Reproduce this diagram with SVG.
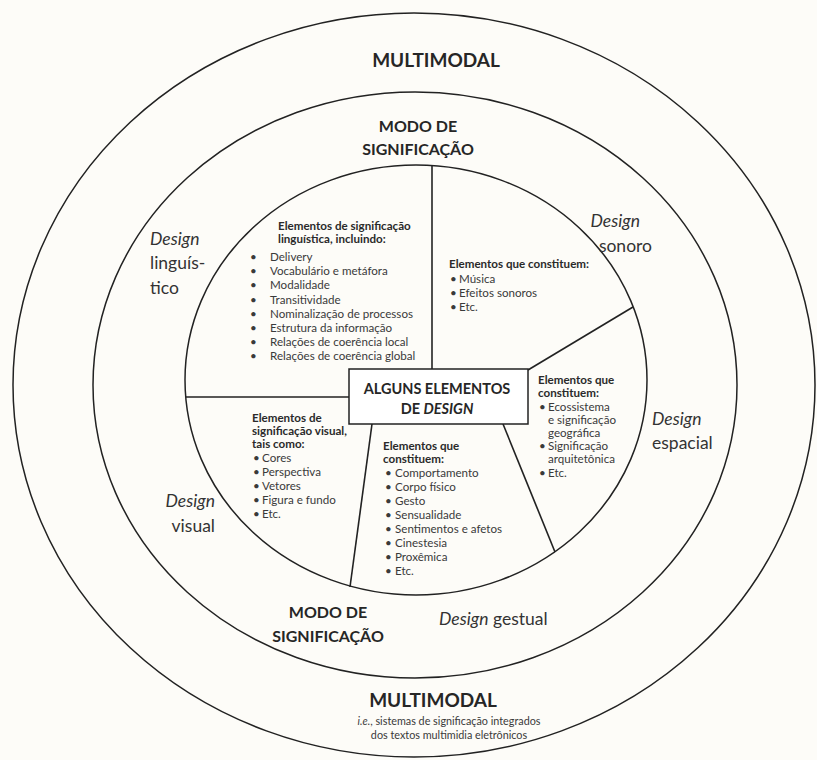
<svg xmlns="http://www.w3.org/2000/svg" width="817" height="760" viewBox="0 0 817 760">
<style>
.ring{fill:none;stroke:#222;stroke-width:1.5}
.div{stroke:#222;stroke-width:1.6;fill:none}
.big{font-family:Lato,"Open Sans",sans-serif;font-weight:700;font-size:19px;fill:#262626;text-anchor:middle}
.mid{font-size:16px}
.box{font-size:14.5px}
.lab{font-family:Lato,"Open Sans",sans-serif;font-size:17.5px;fill:#333}
.it{font-style:italic}
.hd{font-family:Lato,"Open Sans",sans-serif;font-weight:700;font-size:11.6px;fill:#2a2a2a}
.tx{font-family:Lato,"Open Sans",sans-serif;font-size:11.6px;fill:#3a3a3a}
.sm{font-family:Lato,"Open Sans",sans-serif;font-size:10.8px;fill:#3a3a3a;text-anchor:middle}
</style>
<rect width="817" height="760" fill="#fdfcf8"/>
<g id="rings">
<ellipse class="ring" cx="414" cy="385" rx="401" ry="372"/>
<ellipse class="ring" cx="415" cy="385" rx="322" ry="293"/>
<ellipse class="ring" cx="416" cy="380" rx="231" ry="215"/>
</g>
<g id="connectors">
<line class="div" x1="432" y1="165" x2="432" y2="369"/>
<line class="div" x1="186" y1="397" x2="349" y2="397"/>
<line class="div" x1="528" y1="370" x2="633" y2="307"/>
<line class="div" x1="503" y1="424" x2="555" y2="552"/>
<line class="div" x1="372" y1="424" x2="350" y2="587"/>
</g>
<g id="outer-labels">
<text class="big" x="436" y="67">MULTIMODAL</text>
<text class="big" x="433" y="707">MULTIMODAL</text>
<text class="sm" x="449" y="725"><tspan font-style="italic">i.e.</tspan>, sistemas de significação integrados</text>
<text class="sm" x="449" y="739">dos textos multimidia eletrônicos</text>
</g>
<g id="middle-labels">
<text class="big mid" x="418" y="132">MODO DE</text>
<text class="big mid" x="418" y="155">SIGNIFICAÇÃO</text>
<text class="big mid" x="328" y="618">MODO DE</text>
<text class="big mid" x="328" y="642">SIGNIFICAÇÃO</text>
</g>
<g id="design-linguistico">
<text class="lab it" x="150" y="245">Design</text>
<text class="lab" x="150" y="269">linguís-</text>
<text class="lab" x="150" y="294">tico</text>
</g>
<g id="design-sonoro">
<text class="lab it" x="640" y="227" text-anchor="end">Design</text>
<text class="lab" x="652" y="252" text-anchor="end">sonoro</text>
</g>
<g id="design-espacial">
<text class="lab it" x="652" y="425">Design</text>
<text class="lab" x="652" y="449">espacial</text>
</g>
<g id="design-visual">
<text class="lab it" x="215" y="507" text-anchor="end">Design</text>
<text class="lab" x="215" y="532" text-anchor="end">visual</text>
</g>
<g id="design-gestual">
<text class="lab" x="439" y="625"><tspan class="it">Design</tspan> gestual</text>
</g>
<g id="center-box">
<rect x="349" y="369" width="179" height="55" fill="#fff" stroke="#222" stroke-width="1.5"/>
<text class="big box" x="437" y="394">ALGUNS ELEMENTOS</text>
<text class="big box" x="437" y="414">DE <tspan font-style="italic">DESIGN</tspan></text>
</g>
<g id="sec-linguistico">
<text class="hd" x="278" y="230">Elementos de significação</text>
<text class="hd" x="278" y="243">linguística, incluindo:</text>
<g class="tx">
<text x="250" y="261">•</text><text x="270" y="261">Delivery</text>
<text x="250" y="275">•</text><text x="270" y="275">Vocabulário e metáfora</text>
<text x="250" y="289">•</text><text x="270" y="289">Modalidade</text>
<text x="250" y="304">•</text><text x="270" y="304">Transitividade</text>
<text x="250" y="318">•</text><text x="270" y="318">Nominalização de processos</text>
<text x="250" y="332">•</text><text x="270" y="332">Estrutura da informação</text>
<text x="250" y="346">•</text><text x="270" y="346">Relações de coerência local</text>
<text x="250" y="360">•</text><text x="270" y="360">Relações de coerência global</text>
</g>
</g>
<g id="sec-sonoro">
<text class="hd" x="449" y="268">Elementos que constituem:</text>
<g class="tx">
<text x="450" y="283">•</text><text x="459" y="283">Música</text>
<text x="450" y="297">•</text><text x="459" y="297">Efeitos sonoros</text>
<text x="450" y="311">•</text><text x="459" y="311">Etc.</text>
</g>
</g>
<g id="sec-espacial">
<text class="hd" x="538" y="384">Elementos que</text>
<text class="hd" x="538" y="397">constituem:</text>
<g class="tx">
<text x="539" y="411">•</text><text x="548" y="411">Ecossistema</text>
<text x="548" y="424">e significação</text>
<text x="548" y="437">geográfica</text>
<text x="539" y="450">•</text><text x="548" y="450">Significação</text>
<text x="548" y="463">arquitetônica</text>
<text x="539" y="477">•</text><text x="548" y="477">Etc.</text>
</g>
</g>
<g id="sec-visual">
<text class="hd" x="252" y="422">Elementos de</text>
<text class="hd" x="252" y="435">significação visual,</text>
<text class="hd" x="252" y="448">tais como:</text>
<g class="tx">
<text x="253" y="462">•</text><text x="262" y="462">Cores</text>
<text x="253" y="476">•</text><text x="262" y="476">Perspectiva</text>
<text x="253" y="490">•</text><text x="262" y="490">Vetores</text>
<text x="253" y="504">•</text><text x="262" y="504">Figura e fundo</text>
<text x="253" y="518">•</text><text x="262" y="518">Etc.</text>
</g>
</g>
<g id="sec-gestual">
<text class="hd" x="383" y="450">Elementos que</text>
<text class="hd" x="383" y="463">constituem:</text>
<g class="tx">
<text x="385" y="477">•</text><text x="395" y="477">Comportamento</text>
<text x="385" y="491">•</text><text x="395" y="491">Corpo físico</text>
<text x="385" y="505">•</text><text x="395" y="505">Gesto</text>
<text x="385" y="519">•</text><text x="395" y="519">Sensualidade</text>
<text x="385" y="533">•</text><text x="395" y="533">Sentimentos e afetos</text>
<text x="385" y="547">•</text><text x="395" y="547">Cinestesia</text>
<text x="385" y="561">•</text><text x="395" y="561">Proxêmica</text>
<text x="385" y="575">•</text><text x="395" y="575">Etc.</text>
</g>
</g>
</svg>
